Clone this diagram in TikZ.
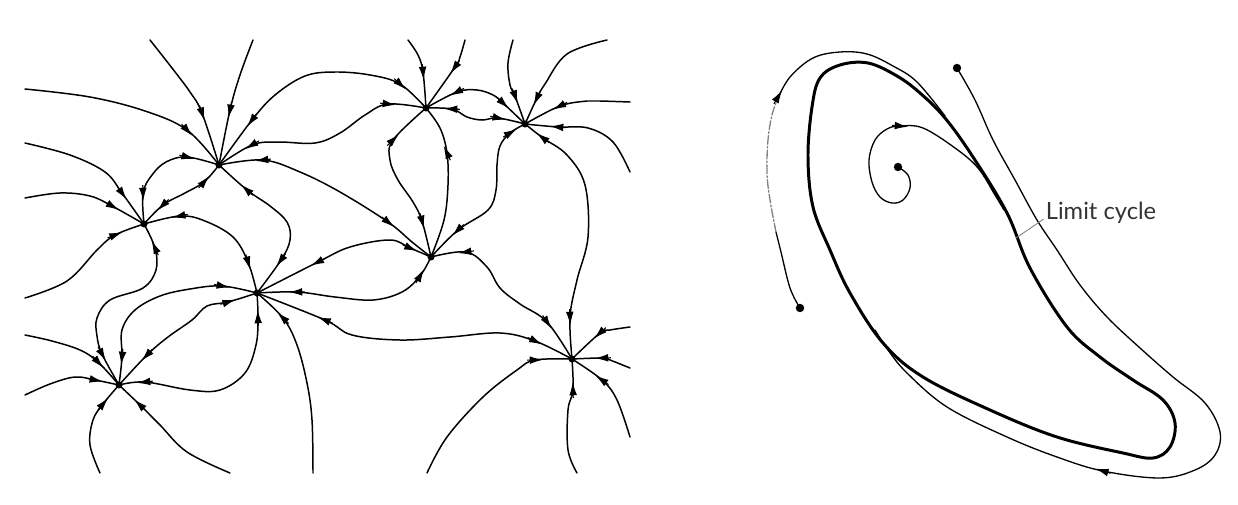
\documentclass[tikz,border=0pt]{standalone}
\usepackage{fontspec}
\setmainfont{Lato}
\usetikzlibrary{arrows.meta,calc}
\newcommand\crv[1]{\draw[flow] plot[smooth,tension=0.6] coordinates {#1};}
\newcommand\tp[2]{\draw[tipst] ($#1!-4.5pt!#2$) -- ($#1!4.5pt!#2$);}
\begin{document}
\begin{tikzpicture}[x=0.02cm,y=-0.02cm,
  flow/.style={line width=0.85pt, line cap=round},
  thinl/.style={line width=0.75pt, line cap=round},
  cyc/.style={line width=1.7pt},
  hub/.style={circle, fill=black, inner sep=0pt, minimum size=4pt},
  bigdot/.style={circle, fill=black, inner sep=0pt, minimum size=4.8pt},
  tipst/.style={-{Latex[length=7.5pt,width=4.4pt]}, line width=0.6pt}]
\useasboundingbox (0,0) rectangle (1238,504);
% hubs
\node[hub] (A) at (219,165) {};
\node[hub] (B) at (144,224) {};
\node[hub] (C) at (426,108) {};
\node[hub] (D) at (525,124) {};
\node[hub] (E) at (431,257) {};
\node[hub] (F) at (257,293) {};
\node[hub] (G) at (119,385) {};
\node[hub] (H) at (572,359) {};
% A
\crv{(150,40) (172,68) (190,92) (202,113) (A.center)} \tp{(202,113)}{(A)}
\crv{(253,40) (240,75) (230,110) (A.center)} \tp{(230,110)}{(A)}
\crv{(25,89) (90,97) (145,111) (187,130) (A.center)} \tp{(187,130)}{(A)}
\crv{(A.center) (252,120) (275,95) (305,76) (335,72) (370,75) (400,84) (C.center)} \tp{(252,120)}{(A)} \tp{(400,84)}{(C)}
\crv{(A.center) (252,145) (278,142) (315,143) (340,133) (365,115) (388,104) (C.center)} \tp{(252,145)}{(A)} \tp{(388,104)}{(C)}
\crv{(A.center) (263,160) (300,172) (340,192) (388,222) (412,242) (E.center)} \tp{(263,160)}{(A)} \tp{(388,222)}{(E)}
\crv{(A.center) (247,190) (270,206) (287,222) (290,240) (281,260) (F.center)} \tp{(247,190)}{(A)} \tp{(281,260)}{(F)}
\crv{(A.center) (187,157) (166,162) (152,175) (143,193) (B.center)} \tp{(187,157)}{(A)} \tp{(143,193)}{(B)}
\crv{(A.center) (204,182) (185,193) (163,205) (B.center)} \tp{(204,182)}{(A)} \tp{(163,205)}{(B)}
% B
\crv{(25,143) (70,155) (105,172) (122,193) (B.center)} \tp{(122,193)}{(B)}
\crv{(25,198) (60,193) (90,196) (112,206) (B.center)} \tp{(112,206)}{(B)}
\crv{(B.center) (180,216) (205,221) (233,237) (248,262) (F.center)} \tp{(180,216)}{(B)} \tp{(248,262)}{(F)}
\crv{(25,298) (67,281) (97,250) (115,235) (B.center)} \tp{(115,235)}{(B)}
\crv{(B.center) (155,248) (156,270) (143,288) (110,300) (97,318) (97,336) (102,354) (G.center)} \tp{(155,248)}{(B)} \tp{(102,354)}{(G)}
% F
\crv{(F.center) (318,262) (350,247) (390,240) (410,248) (E.center)} \tp{(318,262)}{(F)} \tp{(410,248)}{(E)}
\crv{(F.center) (297,292) (335,297) (373,300) (402,292) (420,276) (E.center)} \tp{(297,292)}{(F)} \tp{(420,276)}{(E)}
\crv{(F.center) (325,320) (352,335) (400,340) (450,337) (500,333) (535,341) (H.center)} \tp{(325,320)}{(F)} \tp{(535,341)}{(H)}
\crv{(313,473) (312,420) (307,383) (297,345) (283,318) (F.center)} \tp{(283,318)}{(F)}
\crv{(F.center) (258,318) (256,345) (245,373) (220,390) (190,390) (145,382) (G.center)} \tp{(258,318)}{(F)} \tp{(145,382)}{(G)}
\crv{(F.center) (222,286) (190,289) (160,296) (135,310) (122,330) (122,357) (G.center)} \tp{(222,286)}{(F)} \tp{(122,357)}{(G)}
\crv{(F.center) (228,302) (207,306) (192,320) (168,337) (147,355) (G.center)} \tp{(228,302)}{(F)} \tp{(147,355)}{(G)}
% G
\crv{(25,335) (52,341) (80,350) (98,362) (G.center)} \tp{(98,362)}{(G)}
\crv{(25,395) (50,384) (75,377) (95,380) (G.center)} \tp{(95,380)}{(G)}
\crv{(100,473) (90,445) (93,420) (103,404) (G.center)} \tp{(103,404)}{(G)}
\crv{(230,473) (187,452) (160,425) (140,405) (G.center)} \tp{(140,405)}{(G)}
% C, E
\crv{(C.center) (393,140) (390,160) (398,180) (413,202) (422,221) (E.center)} \tp{(393,140)}{(C)} \tp{(422,221)}{(E)}
\crv{(C.center) (440,128) (447,153) (448,185) (444,220) (E.center)} \tp{(447,153)}{(C)}
\crv{(D.center) (510,133) (500,146) (497,165) (496,190) (488,210) (458,230) (E.center)} \tp{(510,133)}{(D)} \tp{(458,230)}{(E)}
\crv{(E.center) (466,252) (487,267) (500,288) (520,304) (547,322) (H.center)} \tp{(466,252)}{(E)} \tp{(547,322)}{(H)}
% D
\crv{(513,40) (508,63) (510,85) (515,96) (D.center)} \tp{(515,96)}{(D)}
\crv{(607,40) (567,54) (545,84) (537,98) (D.center)} \tp{(537,98)}{(D)}
\crv{(630,102) (600,101) (587,101) (560,106) (D.center)} \tp{(560,106)}{(D)}
\crv{(630,172) (613,142) (588,128) (558,127) (D.center)} \tp{(558,127)}{(D)}
\crv{(C.center) (457,92) (477,90) (493,95) (503,103) (D.center)} \tp{(457,92)}{(C)} \tp{(503,103)}{(D)}
\crv{(C.center) (452,109) (467,117) (482,120) (498,118) (D.center)} \tp{(452,109)}{(C)} \tp{(498,118)}{(D)}
\crv{(D.center) (543,138) (567,155) (585,185) (588,237) (577,280) (570,317) (H.center)} \tp{(543,138)}{(D)} \tp{(570,317)}{(H)}
% C
\crv{(408,40) (418,55) (423,72) (C.center)} \tp{(423,72)}{(C)}
\crv{(465,40) (460,57) (455,67) (C.center)} \tp{(455,67)}{(C)}
% H
\crv{(630,327) (610,330) (600,333) (H.center)} \tp{(600,333)}{(H)}
\crv{(630,368) (610,360) (603,358) (H.center)} \tp{(603,358)}{(H)}
\crv{(630,437) (617,400) (602,380) (H.center)} \tp{(602,380)}{(H)}
\crv{(577,473) (568,450) (568,410) (573,390) (H.center)} \tp{(573,390)}{(H)}
\crv{(427,473) (447,437) (483,397) (517,370) (535,360) (H.center)} \tp{(535,360)}{(H)}

% ---------- limit cycle ----------
\node[bigdot] (P1) at (957,68) {};
\node[bigdot] (P2) at (800,308) {};
\node[bigdot] (P0) at (898,167) {};
\draw[cyc] plot[smooth cycle, tension=0.6] coordinates {(812,107) (820,78) (840,65) (868,63) (897,76) (920,93) (945,118) (973,157) (1007,213) (1030,268) (1067,327) (1100,357) (1133,380) (1163,400) (1175,423) (1170,447) (1153,458) (1123,453) (1057,437) (990,410) (923,377) (883,343) (850,293) (830,250) (813,207) (808,157)};
% outer left trajectory
\draw[thinl] plot[smooth, tension=0.6] coordinates {(P2.center) (790,288) (781,252) (776,232)};
\draw[thinl, gray, dash pattern=on 5pt off 1.2pt on 1pt off 1.2pt] plot[smooth, tension=0.6] coordinates {(776,232) (770,200) (767,173) (768,140) (772,115) (778,98)};
\draw[thinl] plot[smooth, tension=0.6] coordinates {(778,98) (790,77) (813,58) (840,52) (867,54) (893,66) (917,82) (945,116)};
\tp{(778,97)}{(790,77)}
% spiral
\draw[thinl] plot[smooth, tension=0.6] coordinates {(P0.center) (908,175) (910,188) (903,200) (892,203) (880,197) (872,182) (869,160) (875,140) (887,129) (900,126) (923,128) (955,148) (978,168) (995,195) (1004,210)};
\tp{(900,126)}{(923,128)}
% right outer trajectory
\draw[thinl] plot[smooth, tension=0.6] coordinates {(P1.center) (975,100) (993,140) (1015,180) (1037,220) (1057,250) (1080,285) (1107,317) (1140,348) (1173,377) (1205,403) (1220,432) (1215,455) (1195,470) (1160,478) (1103,471) (1057,457) (1007,437) (947,407) (907,373) (888,350) (875,330)};
\tp{(1103,471)}{(1060,458)}
% label
\node[font=\fontsize{13.5}{14}\selectfont, text=black!80, inner sep=1pt] (L) at (1101,213) {Limit cycle};
\coordinate (Lend) at (1016,238);
\draw[gray, line width=0.5pt] (L.west) ++(0,6) -- (Lend);
\end{tikzpicture}
\end{document}
